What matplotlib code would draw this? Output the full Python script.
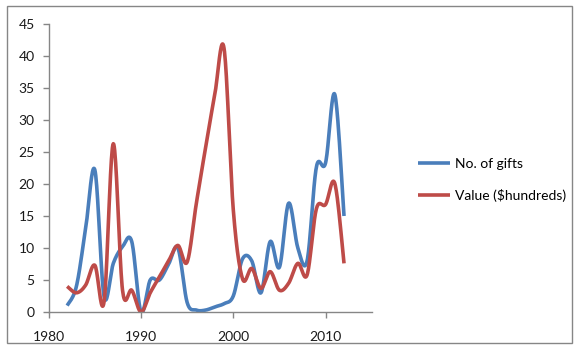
import numpy as np
import matplotlib.pyplot as plt
from matplotlib.patches import Rectangle

years = list(range(1982, 2013))
gifts = [1, 4, 13, 22.2, 2.4, 7.6, 10.2, 11, 0, 5, 5, 7.5, 10, 1.5, 0.3, 0.3, 0.8, 1.3,
         2.5, 8.3, 8, 3, 11, 7, 17, 10, 8, 22.6, 23.3, 34, 15]
value = [4, 3, 4.2, 7.3, 1.6, 26.3, 3.4, 3.4, 0, 3, 5.5, 8, 10.4, 7.8, 17, 25.7, 34,
         41.2, 16, 5.2, 6.8, 3.7, 6.3, 3.4, 4.5, 7.6, 5.8, 16.1, 16.8, 20.1, 7.6]
labels = ['No. of gifts', 'Value ($hundreds)']
colors = ['#4A7EBB', '#BE4B48']


def smooth(x, y, n=20):
    # Catmull-Rom spline, similar to Excel's smoothed line
    x = np.asarray(x, float)
    y = np.asarray(y, float)
    px = np.concatenate([[x[0]], x, [x[-1]]])
    py = np.concatenate([[y[0]], y, [y[-1]]])
    xs, ys = [], []
    t = np.linspace(0, 1, n, endpoint=False)
    for i in range(1, len(px) - 2):
        p0, p1, p2, p3 = px[i - 1], px[i], px[i + 1], px[i + 2]
        q0, q1, q2, q3 = py[i - 1], py[i], py[i + 1], py[i + 2]
        # Bezier control points
        c1x, c1y = p1 + (p2 - p0) / 6, q1 + (q2 - q0) / 6
        c2x, c2y = p2 - (p3 - p1) / 6, q2 - (q3 - q1) / 6
        b0 = (1 - t) ** 3
        b1 = 3 * (1 - t) ** 2 * t
        b2 = 3 * (1 - t) * t ** 2
        b3 = t ** 3
        xs.append(b0 * p1 + b1 * c1x + b2 * c2x + b3 * p2)
        ys.append(b0 * q1 + b1 * c1y + b2 * c2y + b3 * q2)
    xs.append([x[-1]])
    ys.append([y[-1]])
    return np.concatenate(xs), np.concatenate(ys)


plt.rcParams['font.family'] = ['Lato', 'DejaVu Sans']
fig = plt.figure(figsize=(5.79, 3.5), dpi=100)
ax = fig.add_axes([48.7 / 579, 1 - 312 / 350, (371.7 - 48.7) / 579, (312 - 24) / 350])

for ser, col, lab in zip([gifts, value], colors, labels):
    sx, sy = smooth(years, ser)
    ax.plot(sx, sy, color=col, lw=2.6, label=lab, solid_capstyle='butt')

ax.set_xlim(1980, 2015)
ax.set_ylim(0, 45)
ax.set_xticks([1980, 1990, 2000, 2010])
ax.set_yticks(range(0, 46, 5))
for s in ['top', 'right']:
    ax.spines[s].set_visible(False)
for s in ['left', 'bottom']:
    ax.spines[s].set_color('#868686')
    ax.spines[s].set_linewidth(1)
ax.tick_params(colors='#868686', labelcolor='#1a1a1a', labelsize=10, length=4, width=1)
ax.tick_params(axis='x', pad=10)
ax.tick_params(axis='y', pad=6)

leg = ax.legend(loc='center left', bbox_to_anchor=(411 / 579, 1 - 180 / 350),
                bbox_transform=fig.transFigure, frameon=False, borderpad=0,
                fontsize=10, handlelength=2.3, handletextpad=0.35, labelspacing=1.35)

fig.patches.append(Rectangle((7 / 579, 1 - 343 / 350), 565 / 579, 337 / 350,
                             transform=fig.transFigure, fill=False,
                             edgecolor='#868686', lw=1))
fig.savefig('out.png', dpi=100)
